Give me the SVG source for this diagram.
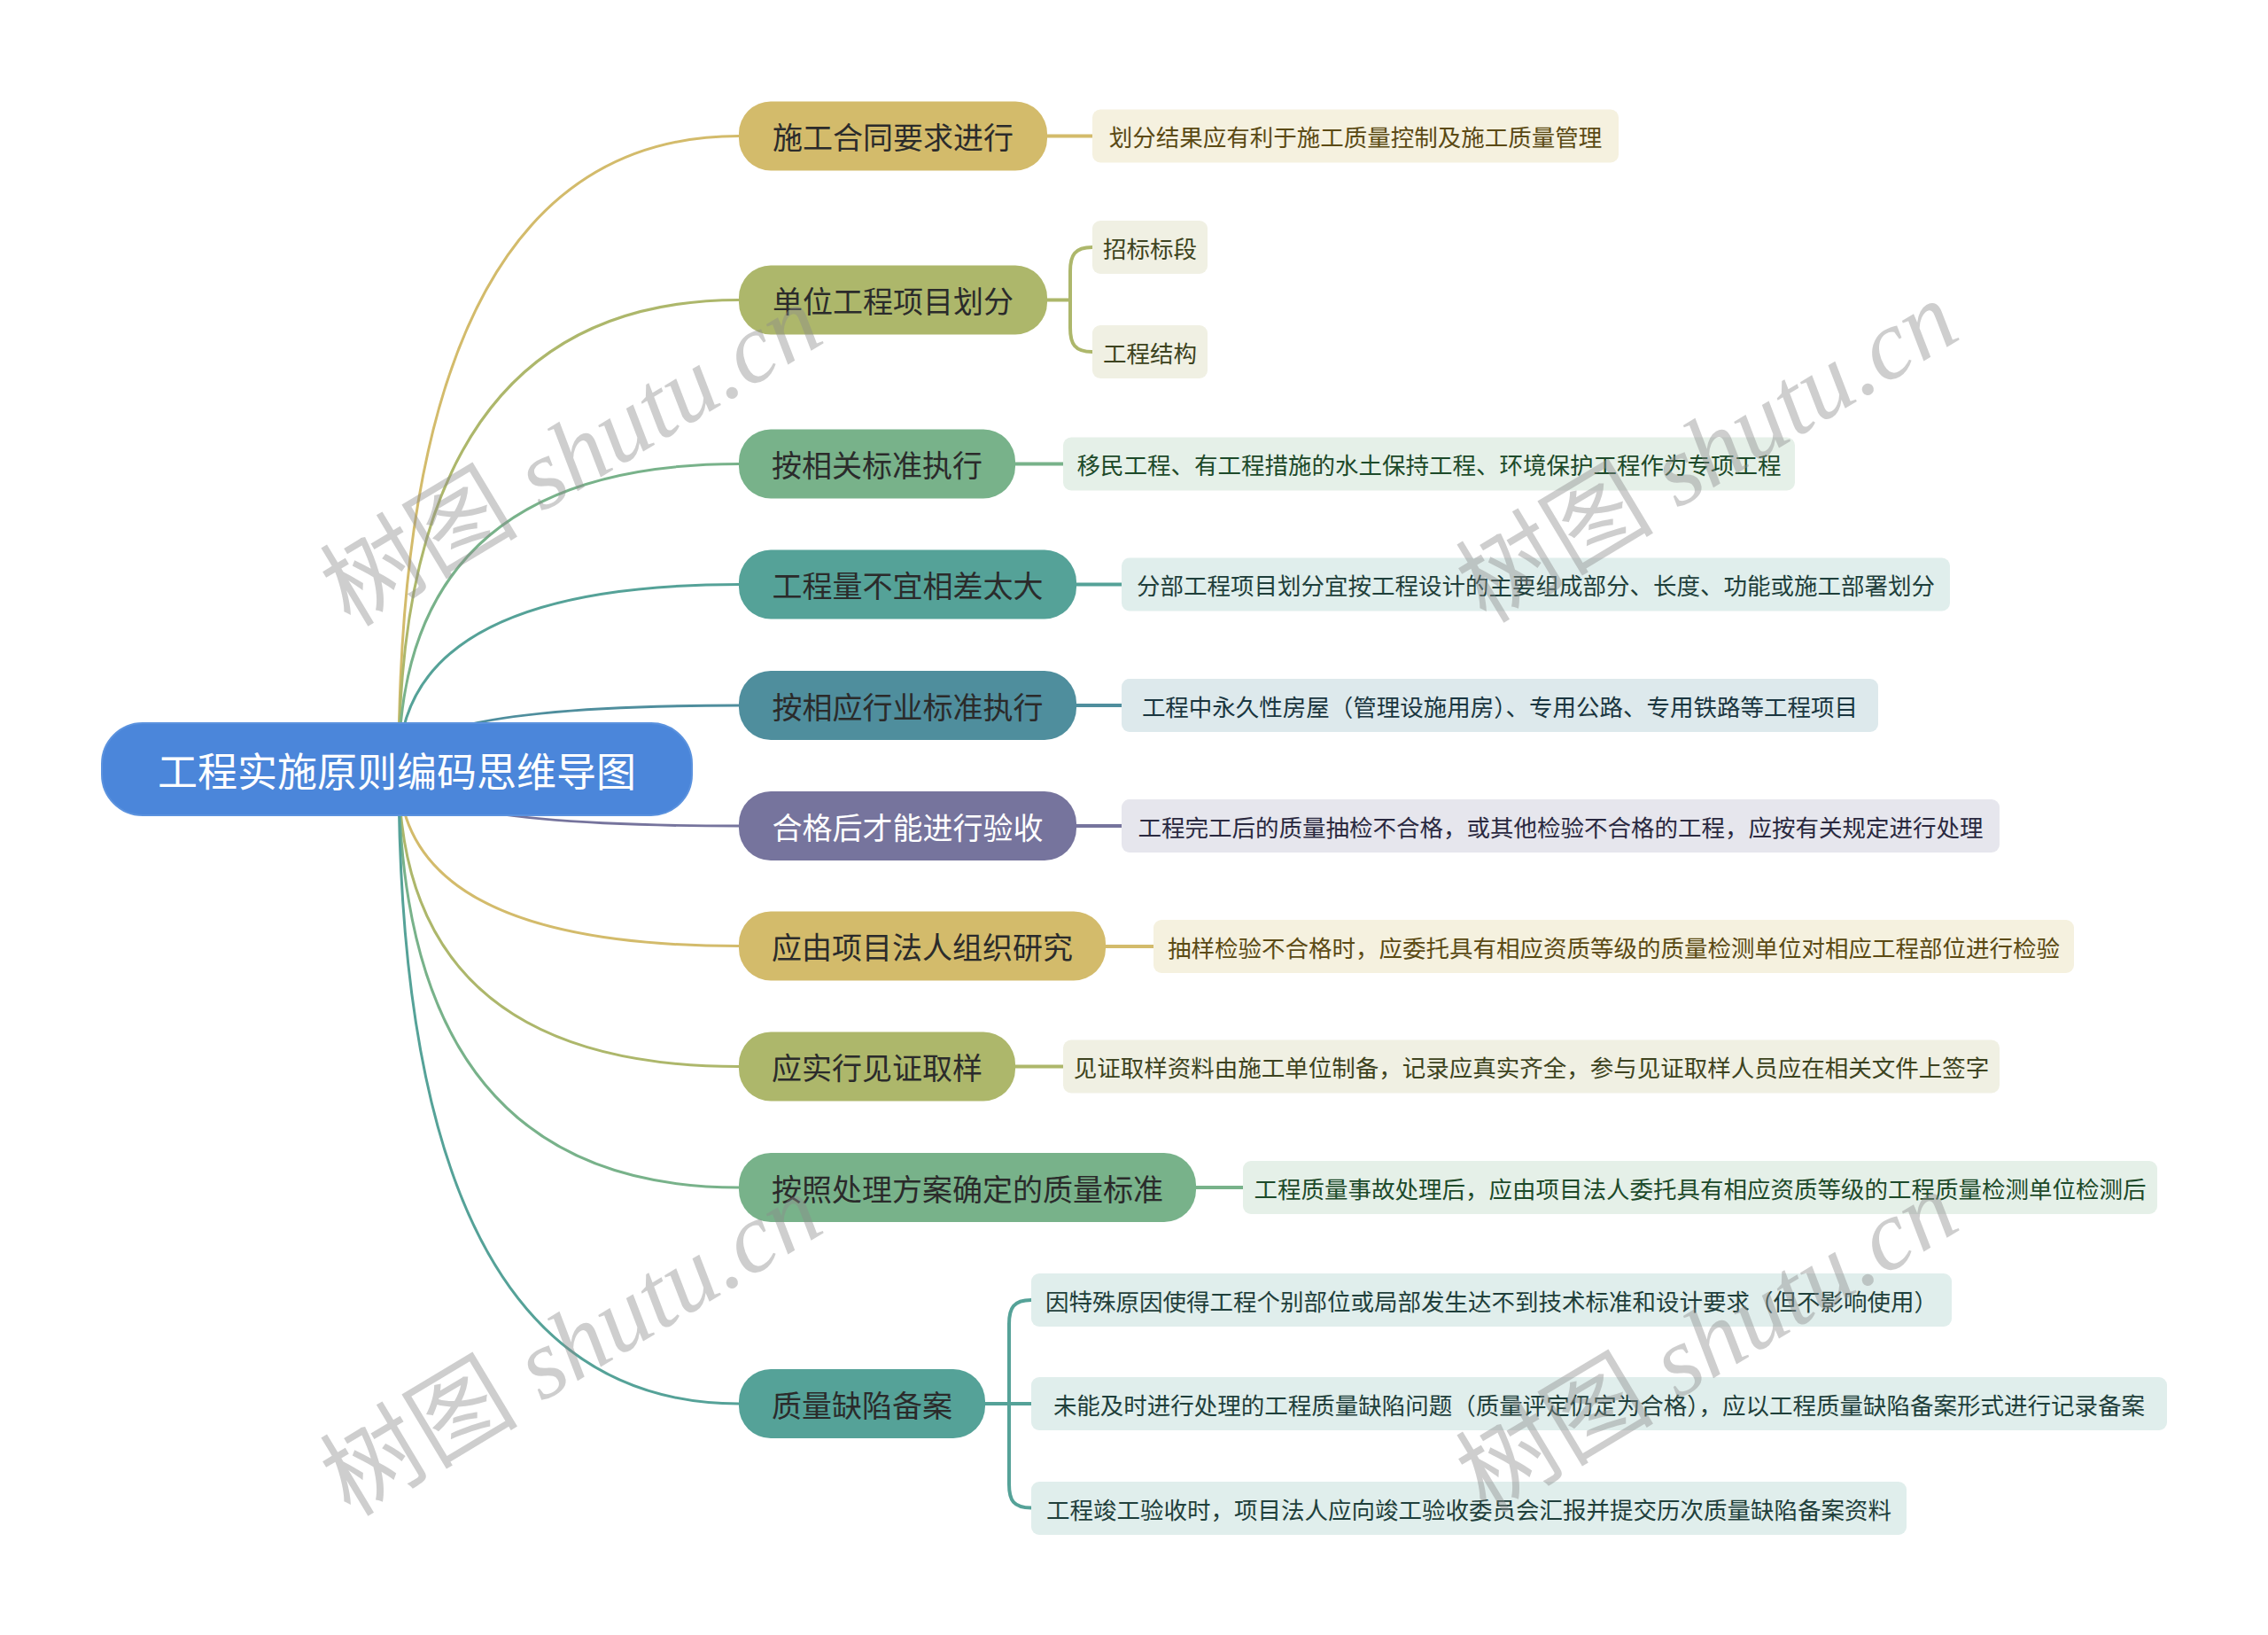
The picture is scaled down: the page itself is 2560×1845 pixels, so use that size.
<svg xmlns="http://www.w3.org/2000/svg" width="2560" height="1845" viewBox="0 0 2560 1845">
<style>
  .t { font-family: "Noto Sans CJK SC", "Noto Sans", sans-serif; dominant-baseline: central; text-anchor: middle; }
  .root-t { font-size: 45px; fill: #ffffff; }
  .l1 { font-size: 34px; fill: #2b2b2b; }
  .l2 { font-size: 26.5px; }
  .c { fill: none; stroke-linecap: round; stroke-linejoin: round; }
  .rc { stroke-width: 3; }
  .lc { stroke-width: 4; }
  .wm { font-family: "Liberation Serif", "Noto Sans CJK SC", serif; font-size: 112px; fill: #8c8c8c; opacity: 0.42; text-anchor: middle; dominant-baseline: central; }
  .gold { fill: #d3bb6b; } .gold-c { stroke: #d3bb6b; } .gold-b { fill: #f5f1df; } .gold-x { fill: #5b4a14; }
  .olive { fill: #adb76b; } .olive-c { stroke: #adb76b; } .olive-b { fill: #f0f0e3; } .olive-x { fill: #3d4320; }
  .green { fill: #78b28a; } .green-c { stroke: #78b28a; } .green-b { fill: #e5f0e8; } .green-x { fill: #1d4a2a; }
  .teal { fill: #55a298; } .teal-c { stroke: #55a298; } .teal-b { fill: #e0eeec; } .teal-x { fill: #1f3f3b; }
  .bt { fill: #4f8e9d; } .bt-c { stroke: #4f8e9d; } .bt-b { fill: #dde9ec; } .bt-x { fill: #1a3640; }
  .pur { fill: #76749d; } .pur-c { stroke: #76749d; } .pur-b { fill: #e6e6ed; } .pur-x { fill: #2a2940; }
</style>
<rect width="2560" height="1845" fill="#ffffff"/>

<g id="connectors">
  <!-- root to level 1 -->
  <path class="c rc gold-c" d="M450,868 Q450,153.5 834,153.5"/>
  <path class="c rc olive-c" d="M450,868 Q450,338.5 834,338.5"/>
  <path class="c rc green-c" d="M450,868 Q450,523.5 834,523.5"/>
  <path class="c rc teal-c" d="M450,868 Q450,659.5 834,659.5"/>
  <path class="c rc bt-c" d="M450,868 Q450,796 834,796"/>
  <path class="c rc pur-c" d="M450,868 Q450,932 834,932"/>
  <path class="c rc gold-c" d="M450,868 Q450,1067.5 834,1067.5"/>
  <path class="c rc olive-c" d="M450,868 Q450,1203.5 834,1203.5"/>
  <path class="c rc green-c" d="M450,868 Q450,1340 834,1340"/>
  <path class="c rc teal-c" d="M450,868 Q450,1584 834,1584"/>
  <!-- level 1 to level 2 -->
  <path class="c lc gold-c" d="M1182,153.5 H1233"/>
  <path class="c lc olive-c" d="M1182,338.5 H1208"/>
  <path class="c lc olive-c" d="M1233,279 C1213,279 1208,288 1208,306 V370 C1208,388 1213,397 1233,397"/>
  <path class="c lc green-c" d="M1146,523.5 H1200"/>
  <path class="c lc teal-c" d="M1215,659.5 H1266"/>
  <path class="c lc bt-c" d="M1215,796 H1266"/>
  <path class="c lc pur-c" d="M1215,932 H1266"/>
  <path class="c lc gold-c" d="M1248,1068 H1302"/>
  <path class="c lc olive-c" d="M1146,1203.5 H1200"/>
  <path class="c lc green-c" d="M1350,1340 H1403"/>
  <path class="c lc teal-c" d="M1112,1584 H1164"/>
  <path class="c lc teal-c" d="M1164,1467 C1144,1467 1139,1476 1139,1494 V1675 C1139,1693 1144,1701.5 1164,1701.5"/>
</g>

<g id="root">
  <rect x="115" y="816" width="666" height="104" rx="46" fill="#4b86da" stroke="#5b92de" stroke-width="2"/>
  <text class="t root-t" x="448" y="868">工程实施原则编码思维导图</text>
</g>

<g id="n1">
  <rect class="gold" x="834" y="114.5" width="348" height="78" rx="36"/>
  <text class="t l1" x="1008" y="153.5">施工合同要求进行</text>
</g>
<g id="n1-1">
  <rect class="gold-b" x="1233" y="123.5" width="594" height="60" rx="9"/>
  <text class="t l2 gold-x" x="1530" y="153.5">划分结果应有利于施工质量控制及施工质量管理</text>
</g>

<g id="n2">
  <rect class="olive" x="834" y="299.5" width="348" height="78" rx="36"/>
  <text class="t l1" x="1008" y="338.5">单位工程项目划分</text>
</g>
<g id="n2-1">
  <rect class="olive-b" x="1233" y="249" width="130" height="60" rx="9"/>
  <text class="t l2 olive-x" x="1298" y="279">招标标段</text>
</g>
<g id="n2-2">
  <rect class="olive-b" x="1233" y="367" width="130" height="60" rx="9"/>
  <text class="t l2 olive-x" x="1298" y="397">工程结构</text>
</g>

<g id="n3">
  <rect class="green" x="834" y="484.5" width="312" height="78" rx="36"/>
  <text class="t l1" x="990" y="523.5">按相关标准执行</text>
</g>
<g id="n3-1">
  <rect class="green-b" x="1200" y="493.5" width="826" height="60" rx="9"/>
  <text class="t l2 green-x" x="1613" y="523.5">移民工程、有工程措施的水土保持工程、环境保护工程作为专项工程</text>
</g>

<g id="n4">
  <rect class="teal" x="834" y="620.5" width="381" height="78" rx="36"/>
  <text class="t l1" x="1024.5" y="659.5">工程量不宜相差太大</text>
</g>
<g id="n4-1">
  <rect class="teal-b" x="1266" y="629.5" width="935" height="60" rx="9"/>
  <text class="t l2 teal-x" x="1733.5" y="659.5">分部工程项目划分宜按工程设计的主要组成部分、长度、功能或施工部署划分</text>
</g>

<g id="n5">
  <rect class="bt" x="834" y="757" width="381" height="78" rx="36"/>
  <text class="t l1" x="1024.5" y="796">按相应行业标准执行</text>
</g>
<g id="n5-1">
  <rect class="bt-b" x="1266" y="766" width="854" height="60" rx="9"/>
  <text class="t l2 bt-x" x="1693" y="796">工程中永久性房屋（管理设施用房）、专用公路、专用铁路等工程项目</text>
</g>

<g id="n6">
  <rect class="pur" x="834" y="893" width="381" height="78" rx="36"/>
  <text class="t l1" x="1024.5" y="932" style="fill:#ffffff">合格后才能进行验收</text>
</g>
<g id="n6-1">
  <rect class="pur-b" x="1266" y="902" width="991" height="60" rx="9"/>
  <text class="t l2 pur-x" x="1761.5" y="932">工程完工后的质量抽检不合格，或其他检验不合格的工程，应按有关规定进行处理</text>
</g>

<g id="n7">
  <rect class="gold" x="834" y="1028.5" width="414" height="78" rx="36"/>
  <text class="t l1" x="1041" y="1067.5">应由项目法人组织研究</text>
</g>
<g id="n7-1">
  <rect class="gold-b" x="1302" y="1038" width="1039" height="60" rx="9"/>
  <text class="t l2 gold-x" x="1821.5" y="1068">抽样检验不合格时，应委托具有相应资质等级的质量检测单位对相应工程部位进行检验</text>
</g>

<g id="n8">
  <rect class="olive" x="834" y="1164.5" width="312" height="78" rx="36"/>
  <text class="t l1" x="990" y="1203.5">应实行见证取样</text>
</g>
<g id="n8-1">
  <rect class="olive-b" x="1200" y="1173.5" width="1057" height="60" rx="9"/>
  <text class="t l2 olive-x" x="1728.5" y="1203.5">见证取样资料由施工单位制备，记录应真实齐全，参与见证取样人员应在相关文件上签字</text>
</g>

<g id="n9">
  <rect class="green" x="834" y="1301" width="516" height="78" rx="36"/>
  <text class="t l1" x="1092" y="1340">按照处理方案确定的质量标准</text>
</g>
<g id="n9-1">
  <rect class="green-b" x="1403" y="1310" width="1032" height="60" rx="9"/>
  <text class="t l2 green-x" x="1919" y="1340">工程质量事故处理后，应由项目法人委托具有相应资质等级的工程质量检测单位检测后</text>
</g>

<g id="n10">
  <rect class="teal" x="834" y="1545" width="278" height="78" rx="36"/>
  <text class="t l1" x="973" y="1584">质量缺陷备案</text>
</g>
<g id="n10-1">
  <rect class="teal-b" x="1164" y="1437" width="1039" height="60" rx="9"/>
  <text class="t l2 teal-x" x="1683.5" y="1467">因特殊原因使得工程个别部位或局部发生达不到技术标准和设计要求（但不影响使用）</text>
</g>
<g id="n10-2">
  <rect class="teal-b" x="1164" y="1554" width="1282" height="60" rx="9"/>
  <text class="t l2 teal-x" x="1805" y="1584">未能及时进行处理的工程质量缺陷问题（质量评定仍定为合格），应以工程质量缺陷备案形式进行记录备案</text>
</g>
<g id="n10-3">
  <rect class="teal-b" x="1164" y="1672" width="988" height="60" rx="9"/>
  <text class="t l2 teal-x" x="1658" y="1702">工程竣工验收时，项目法人应向竣工验收委员会汇报并提交历次质量缺陷备案资料</text>
</g>

<g id="watermarks">
  <text class="wm" transform="translate(645,514) rotate(-31)"><tspan>树图</tspan> <tspan font-style="italic">shutu.cn</tspan></text>
  <text class="wm" transform="translate(1927,510) rotate(-31)"><tspan>树图</tspan> <tspan font-style="italic">shutu.cn</tspan></text>
  <text class="wm" transform="translate(645,1518) rotate(-31)"><tspan>树图</tspan> <tspan font-style="italic">shutu.cn</tspan></text>
  <text class="wm" transform="translate(1927,1515) rotate(-31)"><tspan>树图</tspan> <tspan font-style="italic">shutu.cn</tspan></text>
</g>
</svg>
